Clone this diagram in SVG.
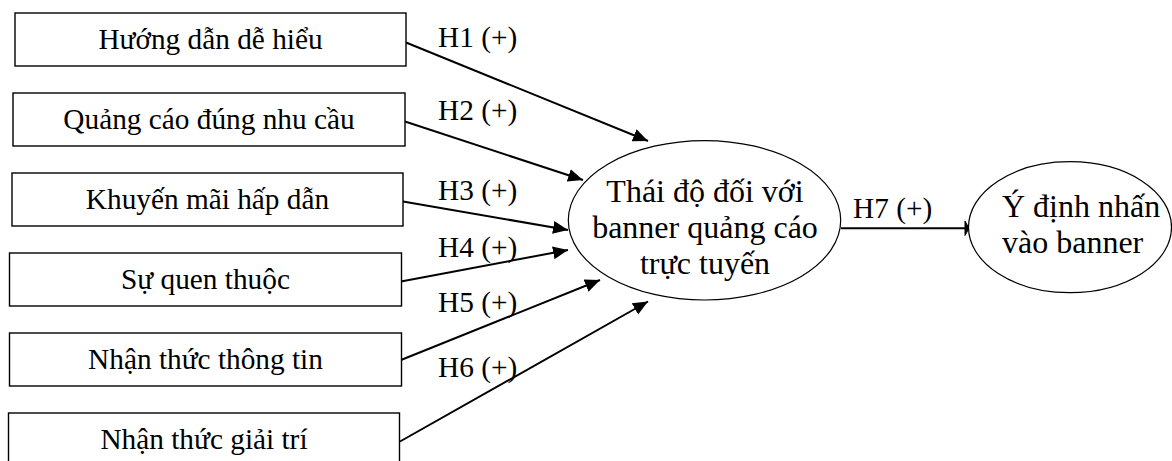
<svg xmlns="http://www.w3.org/2000/svg" width="1172" height="461" viewBox="0 0 1172 461">
<style>
.box{fill:#fff;stroke:#000;stroke-width:1.4}
.ell{fill:#fff;stroke:#000;stroke-width:1.2}
.t{font-family:"Liberation Serif","Times New Roman",serif;font-size:29.3px;fill:#000}
.big{font-size:32px}
.c{text-anchor:middle}
.edge{stroke:#000;stroke-width:2;fill:none}
</style>
<defs>
<marker id="ah" markerUnits="userSpaceOnUse" markerWidth="16" markerHeight="14" refX="15" refY="6.5" orient="auto">
<path d="M0,0 L15,6.5 L0,13 Z" fill="#000"/>
</marker>
</defs>
<rect width="1172" height="461" fill="#fff"/>
<g id="connectors">
<line class="edge" x1="406" y1="42.5" x2="648" y2="141" marker-end="url(#ah)"/>
<line class="edge" x1="405" y1="121.5" x2="583" y2="180" marker-end="url(#ah)"/>
<line class="edge" x1="403" y1="201.5" x2="568" y2="230" marker-end="url(#ah)"/>
<line class="edge" x1="401" y1="281.5" x2="568" y2="250" marker-end="url(#ah)"/>
<line class="edge" x1="401" y1="360" x2="600" y2="280" marker-end="url(#ah)"/>
<line class="edge" x1="400" y1="441.5" x2="648" y2="301.5" marker-end="url(#ah)"/>
<line class="edge" x1="841" y1="228.3" x2="966" y2="228.3"/>
<polygon points="965,221 969,228.3 965,235.5" fill="#000" stroke="#000" stroke-width="1"/>
<text class="t" x="438" y="47">H1 (+)</text>
<text class="t" x="438" y="120">H2 (+)</text>
<text class="t" x="438" y="200">H3 (+)</text>
<text class="t" x="438" y="257">H4 (+)</text>
<text class="t" x="438" y="312">H5 (+)</text>
<text class="t" x="438" y="377">H6 (+)</text>
<text class="t" x="853" y="217.5">H7 (+)</text>
</g>
<g id="n1"><rect class="box" x="15" y="13" width="391" height="53"/><text class="t c" x="210.5" y="49.3">Hướng dẫn dễ hiểu</text></g>
<g id="n2"><rect class="box" x="13" y="93" width="392" height="53"/><text class="t c" x="209" y="129.3">Quảng cáo đúng nhu cầu</text></g>
<g id="n3"><rect class="box" x="12" y="173" width="391" height="53"/><text class="t c" x="207.5" y="208.5">Khuyến mãi hấp dẫn</text></g>
<g id="n4"><rect class="box" x="9.5" y="253" width="392" height="53"/><text class="t c" x="205.5" y="289.3">Sự quen thuộc</text></g>
<g id="n5"><rect class="box" x="9.5" y="333" width="392" height="53"/><text class="t c" x="205.5" y="368.5">Nhận thức thông tin</text></g>
<g id="n6"><rect class="box" x="8.5" y="413" width="391" height="53"/><text class="t c" x="204" y="448.5">Nhận thức giải trí</text></g>
<g id="attitude"><ellipse class="ell" cx="704.5" cy="220.3" rx="136.2" ry="79.7"/>
<text class="t big c" x="705" y="201.7">Thái độ đối với</text>
<text class="t big c" x="705" y="238.3">banner quảng cáo</text>
<text class="t big c" x="705" y="274">trực tuyến</text></g>
<g id="intention"><ellipse class="ell" cx="1070" cy="227.2" rx="101.5" ry="65.5"/>
<text class="t big" x="1002" y="217.3">Ý định nhấn</text>
<text class="t big" x="1002" y="253.3">vào banner</text></g>
</svg>
